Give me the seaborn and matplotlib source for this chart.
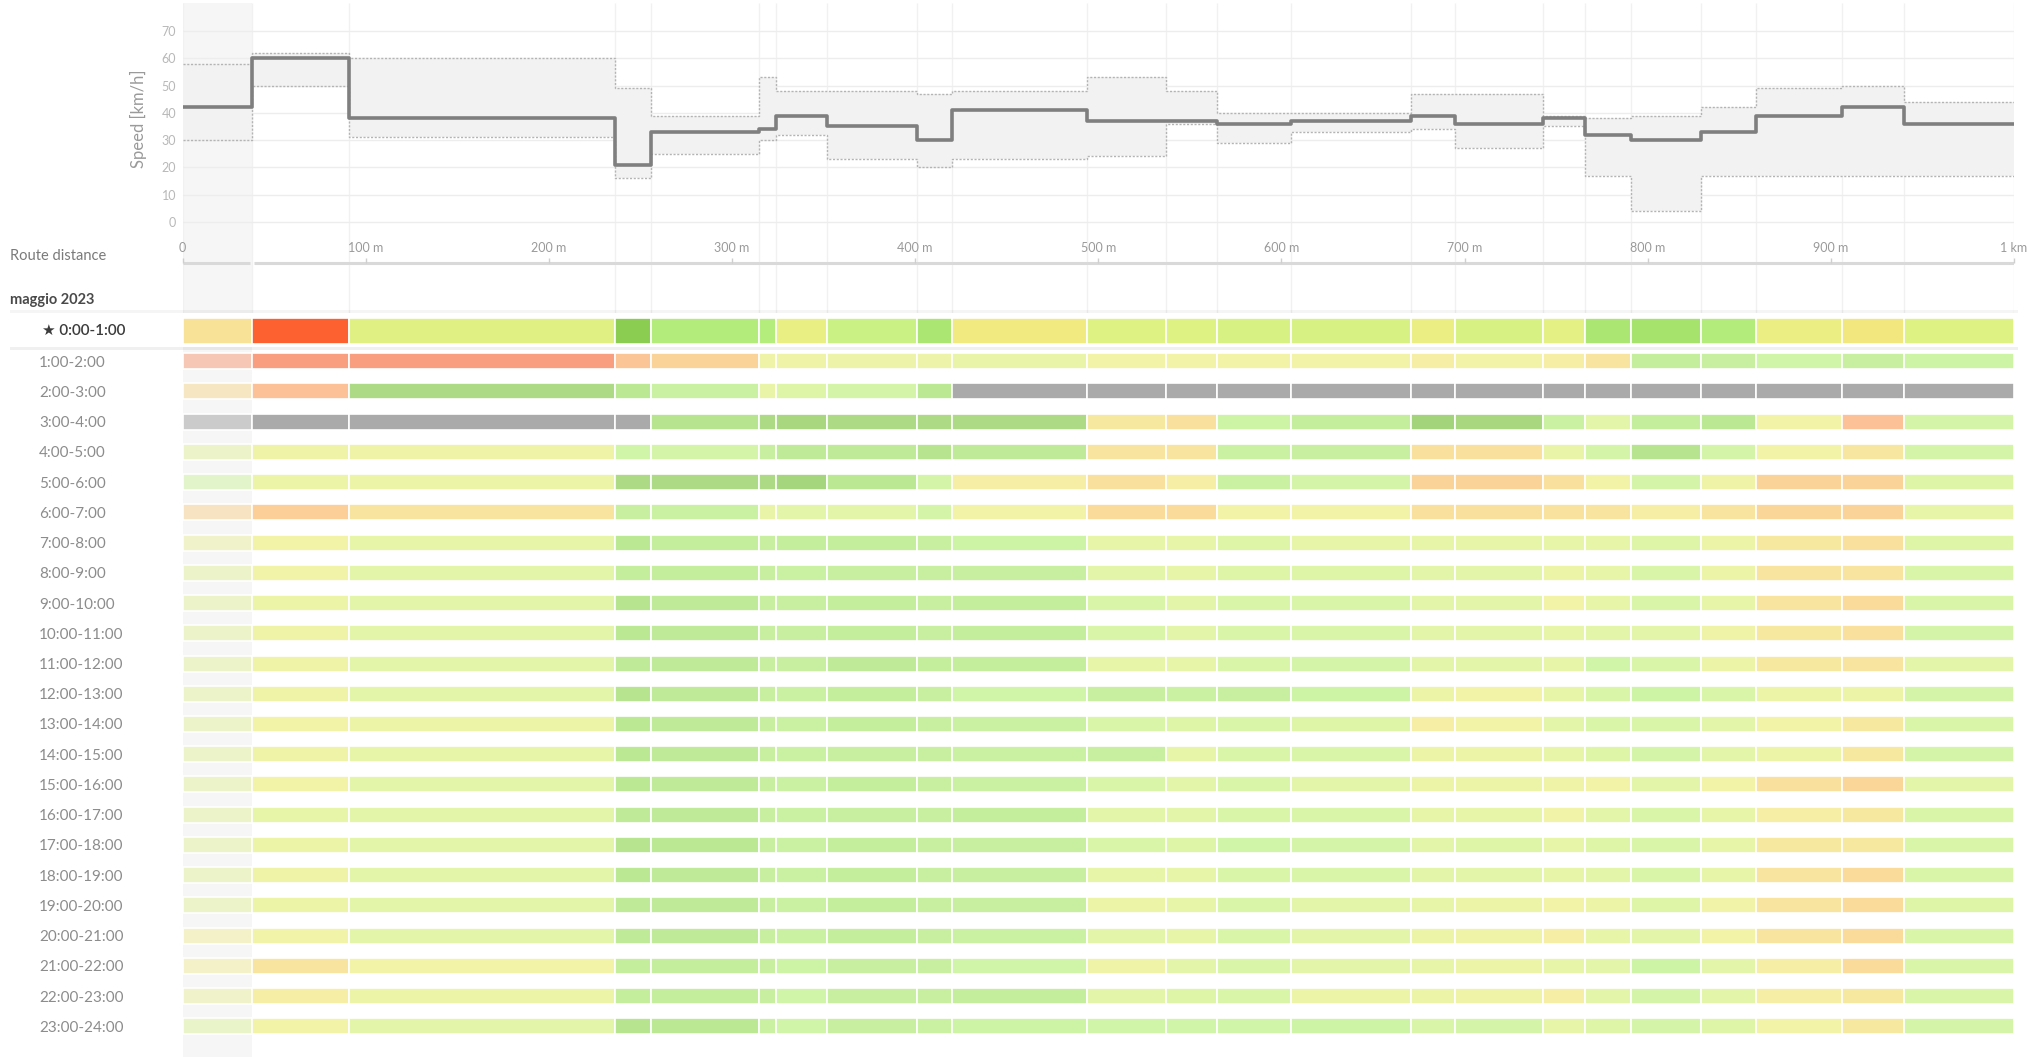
import numpy as np
import seaborn as sns
import matplotlib.pyplot as plt
import matplotlib.patheffects as pe
from matplotlib.colors import LinearSegmentedColormap, to_rgba
from matplotlib.patches import Rectangle
from matplotlib.transforms import blended_transform_factory

# Segment boundaries along the route (m)
seg_edges = [0, 38, 91, 236, 256, 315, 324, 352, 401, 420, 494, 537, 565,
             605, 671, 695, 743, 766, 791, 829, 859, 906, 940, 1000]

# Speed profile per segment (km/h)
speed_median = [42, 60, 38, 21, 33, 34, 39, 35, 30, 41, 37, 37, 36, 37, 39, 36, 38, 32, 30, 33, 39, 42, 36]
speed_upper = [58, 62, 60, 49, 39, 53, 48, 48, 47, 48, 53, 48, 40, 40, 47, 47, 39, 38, 39, 42, 49, 50, 44]
speed_lower = [30, 50, 31, 16, 25, 30, 32, 23, 20, 23, 24, 36, 29, 33, 34, 27, 35, 17, 4, 17, 17, 17, 17]

dist_ticks = [0, 100, 200, 300, 400, 500, 600, 700, 800, 900, 1000]
dist_labels = ['0', '100 m', '200 m', '300 m', '400 m', '500 m', '600 m',
               '700 m', '800 m', '900 m', '1 km']
speed_ticks = [0, 10, 20, 30, 40, 50, 60, 70]

hour_labels = ['0:00-1:00', '1:00-2:00', '2:00-3:00', '3:00-4:00', '4:00-5:00',
               '5:00-6:00', '6:00-7:00', '7:00-8:00', '8:00-9:00', '9:00-10:00',
               '10:00-11:00', '11:00-12:00', '12:00-13:00', '13:00-14:00',
               '14:00-15:00', '15:00-16:00', '16:00-17:00', '17:00-18:00',
               '18:00-19:00', '19:00-20:00', '20:00-21:00', '21:00-22:00',
               '22:00-23:00', '23:00-24:00']

# relative speed index per hour and segment (0 = congested, 100 = free flow, nan = no data)
nan = np.nan
rel_speed = [
    [46, 3, 60, 90, 76, 75, 55, 68, 80, 51, 62, 62, 64, 64, 54, 64, 58, 80, 82, 76, 54, 50, 62],
    [14, 12, 12, 32, 38, 56, 56, 57, 57, 60, 52, 52, 52, 52, 50, 52, 50, 46, 80, 78, 72, 78, 74],
    [42, 30, 90, 84, 76, 60, 66, 70, 84, nan, nan, nan, nan, nan, nan, nan, nan, nan, nan, nan, nan, nan, nan],
    [nan, nan, nan, nan, 86, 90, 92, 90, 90, 90, 48, 44, 74, 80, 94, 92, 76, 64, 80, 84, 52, 30, 70],
    [60, 56, 56, 72, 70, 78, 82, 82, 86, 82, 46, 46, 76, 78, 44, 44, 60, 70, 86, 70, 52, 47, 70],
    [70, 58, 58, 90, 90, 90, 93, 84, 70, 50, 44, 50, 76, 70, 38, 38, 44, 52, 70, 56, 38, 38, 66],
    [40, 36, 46, 78, 76, 60, 64, 64, 70, 52, 42, 42, 52, 52, 44, 44, 45, 46, 50, 46, 40, 38, 62],
    [56, 52, 62, 84, 80, 78, 80, 80, 78, 74, 62, 62, 66, 62, 62, 62, 62, 62, 66, 58, 48, 44, 66],
    [60, 54, 64, 80, 80, 78, 76, 78, 78, 78, 64, 62, 66, 66, 64, 64, 58, 62, 68, 58, 46, 46, 68],
    [60, 58, 64, 86, 82, 78, 78, 80, 78, 80, 68, 64, 68, 68, 64, 64, 52, 62, 68, 62, 46, 42, 68],
    [60, 56, 64, 84, 82, 78, 78, 80, 78, 80, 68, 64, 68, 68, 64, 64, 62, 64, 64, 56, 48, 44, 70],
    [60, 56, 64, 82, 82, 78, 78, 82, 80, 80, 62, 62, 68, 70, 64, 64, 62, 72, 68, 58, 48, 46, 64],
    [60, 56, 64, 86, 82, 78, 76, 80, 78, 72, 78, 76, 78, 74, 58, 52, 62, 68, 74, 68, 58, 58, 70],
    [60, 52, 58, 84, 82, 78, 76, 80, 78, 76, 68, 66, 68, 66, 50, 52, 64, 68, 68, 64, 52, 48, 68],
    [60, 56, 62, 84, 82, 78, 76, 78, 78, 76, 78, 62, 68, 68, 58, 58, 62, 66, 70, 64, 58, 48, 70],
    [60, 52, 64, 84, 82, 78, 76, 80, 78, 76, 68, 64, 68, 64, 58, 58, 56, 52, 64, 52, 44, 40, 64],
    [60, 62, 64, 82, 82, 78, 76, 78, 78, 80, 64, 64, 68, 68, 62, 62, 54, 64, 68, 62, 50, 48, 68],
    [60, 58, 64, 86, 84, 78, 76, 80, 78, 78, 68, 66, 72, 70, 64, 66, 62, 66, 68, 62, 48, 48, 68],
    [60, 56, 64, 84, 82, 78, 76, 80, 78, 78, 62, 62, 68, 68, 64, 64, 62, 64, 68, 62, 46, 42, 68],
    [60, 58, 64, 82, 82, 78, 76, 80, 78, 78, 58, 62, 68, 64, 62, 58, 52, 58, 66, 54, 46, 42, 66],
    [50, 54, 64, 82, 82, 78, 76, 80, 78, 76, 64, 62, 68, 64, 58, 56, 50, 62, 64, 52, 46, 42, 68],
    [50, 46, 52, 80, 80, 78, 74, 78, 78, 72, 56, 64, 68, 64, 62, 58, 62, 64, 74, 64, 50, 42, 68],
    [56, 50, 58, 80, 80, 78, 72, 78, 78, 80, 64, 66, 68, 58, 58, 56, 50, 64, 70, 64, 50, 48, 68],
    [64, 52, 64, 86, 84, 76, 72, 78, 76, 74, 72, 72, 72, 74, 68, 70, 62, 66, 70, 66, 52, 48, 70],
]

sns.set_style('white')
plt.rcParams['font.family'] = ['Lato', 'DejaVu Sans']

W_PX, H_PX = 2044, 1057
fig = plt.figure(figsize=(W_PX / 100, H_PX / 100), dpi=100)

# horizontal placement shared by all panels (0 m .. 1 km)
X0, X1 = 182.5, 2014
L, W = X0 / W_PX, (X1 - X0) / W_PX


def fy(px):
    return 1 - px / H_PX


# traffic light colour scale
cmap = LinearSegmentedColormap.from_list('traffic', [
    (0.00, '#ff5a28'), (0.12, '#f7774a'), (0.30, '#fba86a'), (0.40, '#f9c76c'),
    (0.48, '#f5df78'), (0.52, '#eeee83'), (0.62, '#def183'), (0.72, '#bcf183'),
    (0.78, '#b0e977'), (0.86, '#9adc61'), (0.92, '#83c74a'), (1.00, '#6cb633')])
NODATA = '#878787'

# background: selected first segment, faint segment separators, distance rule
ax_bg = fig.add_axes([L, 0, W, fy(3)])
ax_bg.set_xlim(0, 1000)
ax_bg.set_ylim(0, 1)
ax_bg.axis('off')
ax_bg.axvspan(seg_edges[0], seg_edges[1], color='#f6f6f6', lw=0)
ax_bg.vlines(seg_edges, fy(313) / fy(3), 1, color='#f1f1f1', lw=1)
y_rule = fy(263) / fy(3)
ax_bg.hlines([y_rule, y_rule], [0, seg_edges[1] + 1.2], [seg_edges[1] - 1.2, 1000],
             color='#d9d9d9', lw=2.2)

# speed profile
ax_s = fig.add_axes([L, fy(235), W, fy(3) - fy(235)])
ax_s.set_facecolor('none')
up = speed_upper + [speed_upper[-1]]
lo = speed_lower + [speed_lower[-1]]
med = speed_median + [speed_median[-1]]
ax_s.fill_between(seg_edges, lo, up, step='post', color='#f2f2f2', lw=0, zorder=1)
sns.lineplot(x=seg_edges, y=up, drawstyle='steps-post', color='#b4b4b4', lw=1,
             linestyle=(0, (1.5, 1.2)), estimator=None, ax=ax_s, zorder=2)
sns.lineplot(x=seg_edges, y=lo, drawstyle='steps-post', color='#b4b4b4', lw=1,
             linestyle=(0, (1.5, 1.2)), estimator=None, ax=ax_s, zorder=2)
sns.lineplot(x=seg_edges, y=med, drawstyle='steps-post', color='#7f7f7f', lw=2.6,
             estimator=None, ax=ax_s, zorder=3)
ax_s.set_xlim(0, 1000)
ax_s.set_ylim(-4.8, 80.3)
ax_s.set_xticks([])
ax_s.set_yticks(speed_ticks)
ax_s.grid(axis='y', color='#ededed', lw=1)
ax_s.set_axisbelow(True)
ax_s.tick_params(axis='y', length=0, pad=4.7, labelsize=9, labelcolor='#b8b8b8')
for sp in ax_s.spines.values():
    sp.set_visible(False)
ax_s.set_xlabel('')
ax_s.set_ylabel('Speed [km/h]', fontsize=12, color='#9a9a9a')
ax_s.yaxis.set_label_coords((147 - X0) / (X1 - X0), 0.5)

# route distance scale (ticks + labels above the rule)
ax_d = fig.add_axes([L, fy(263), W, 1 / H_PX])
ax_d.set_facecolor('none')
ax_d.set_xlim(0, 1000)
ax_d.set_yticks([])
ax_d.set_xticks(dist_ticks)
ax_d.set_xticklabels(dist_labels)
for sp in ax_d.spines.values():
    sp.set_visible(False)
ax_d.tick_params(axis='x', direction='in', length=3.6, width=1, color='#cfcfcf',
                 bottom=True, top=False, labelbottom=False, labeltop=True,
                 pad=5.5, labelsize=9, labelcolor='#9a9a9a')
fig.text(10 / W_PX, fy(255.5), 'Route distance', fontsize=10.5, color='#7a7a7a',
         va='center', ha='left')
fig.text(10 / W_PX, fy(300), 'maggio 2023', fontsize=10.5, color='#4a4a4a',
         va='center', ha='left', fontweight='bold')

# hourly heat strips
ax_h = fig.add_axes([L, fy(1041.4), W, fy(315.9) - fy(1041.4)])
ax_h.set_facecolor('none')
ax_h.set_xlim(0, 1000)
ax_h.set_ylim(23.5, -0.5)
for sp in ax_h.spines.values():
    sp.set_visible(False)
ax_h.set_xticks([])

lefts = np.array(seg_edges[:-1])
widths = np.diff(seg_edges)
for r, row in enumerate(rel_speed):
    base_alpha = 1.0 if r == 0 else 0.7
    cols = []
    for j, v in enumerate(row):
        c = NODATA if np.isnan(v) else cmap(v / 100)
        a = base_alpha * ((0.75 if r == 0 else 0.55) if j == 0 else 1.0)
        cols.append(to_rgba(c, a))
    ax_h.barh(r, widths, left=lefts, height=0.85 if r == 0 else 0.53,
              color=cols, edgecolor='white', linewidth=1.2, zorder=2)

# highlighted row box
box = Rectangle((10 / W_PX, fy(347)), 2008 / W_PX, 34 / H_PX,
                transform=fig.transFigure, facecolor='white', edgecolor='none',
                clip_on=False, zorder=1)
box.set_path_effects([pe.SimplePatchShadow(offset=(0, 2), shadow_rgbFace='#000000', alpha=0.04),
                      pe.SimplePatchShadow(offset=(0, -2), shadow_rgbFace='#000000', alpha=0.06),
                      pe.Normal()])
ax_h.add_patch(box)

ax_h.set_yticks(range(24))
ax_h.set_yticklabels([''] + hour_labels[1:])
ax_h.tick_params(axis='y', length=0, pad=(X0 - 39) * 0.72, labelsize=11,
                 labelcolor='#8c8c8c')
for lbl in ax_h.get_yticklabels():
    lbl.set_horizontalalignment('left')
tr = blended_transform_factory(ax_h.transAxes, ax_h.transData)
ax_h.text((42 - X0) / (X1 - X0), 0, '\u2605 ' + hour_labels[0], transform=tr,
          ha='left', va='center', fontsize=11, color='#3c3c3c', fontweight='semibold',
          zorder=5)

fig.savefig('out.png', dpi=100)
